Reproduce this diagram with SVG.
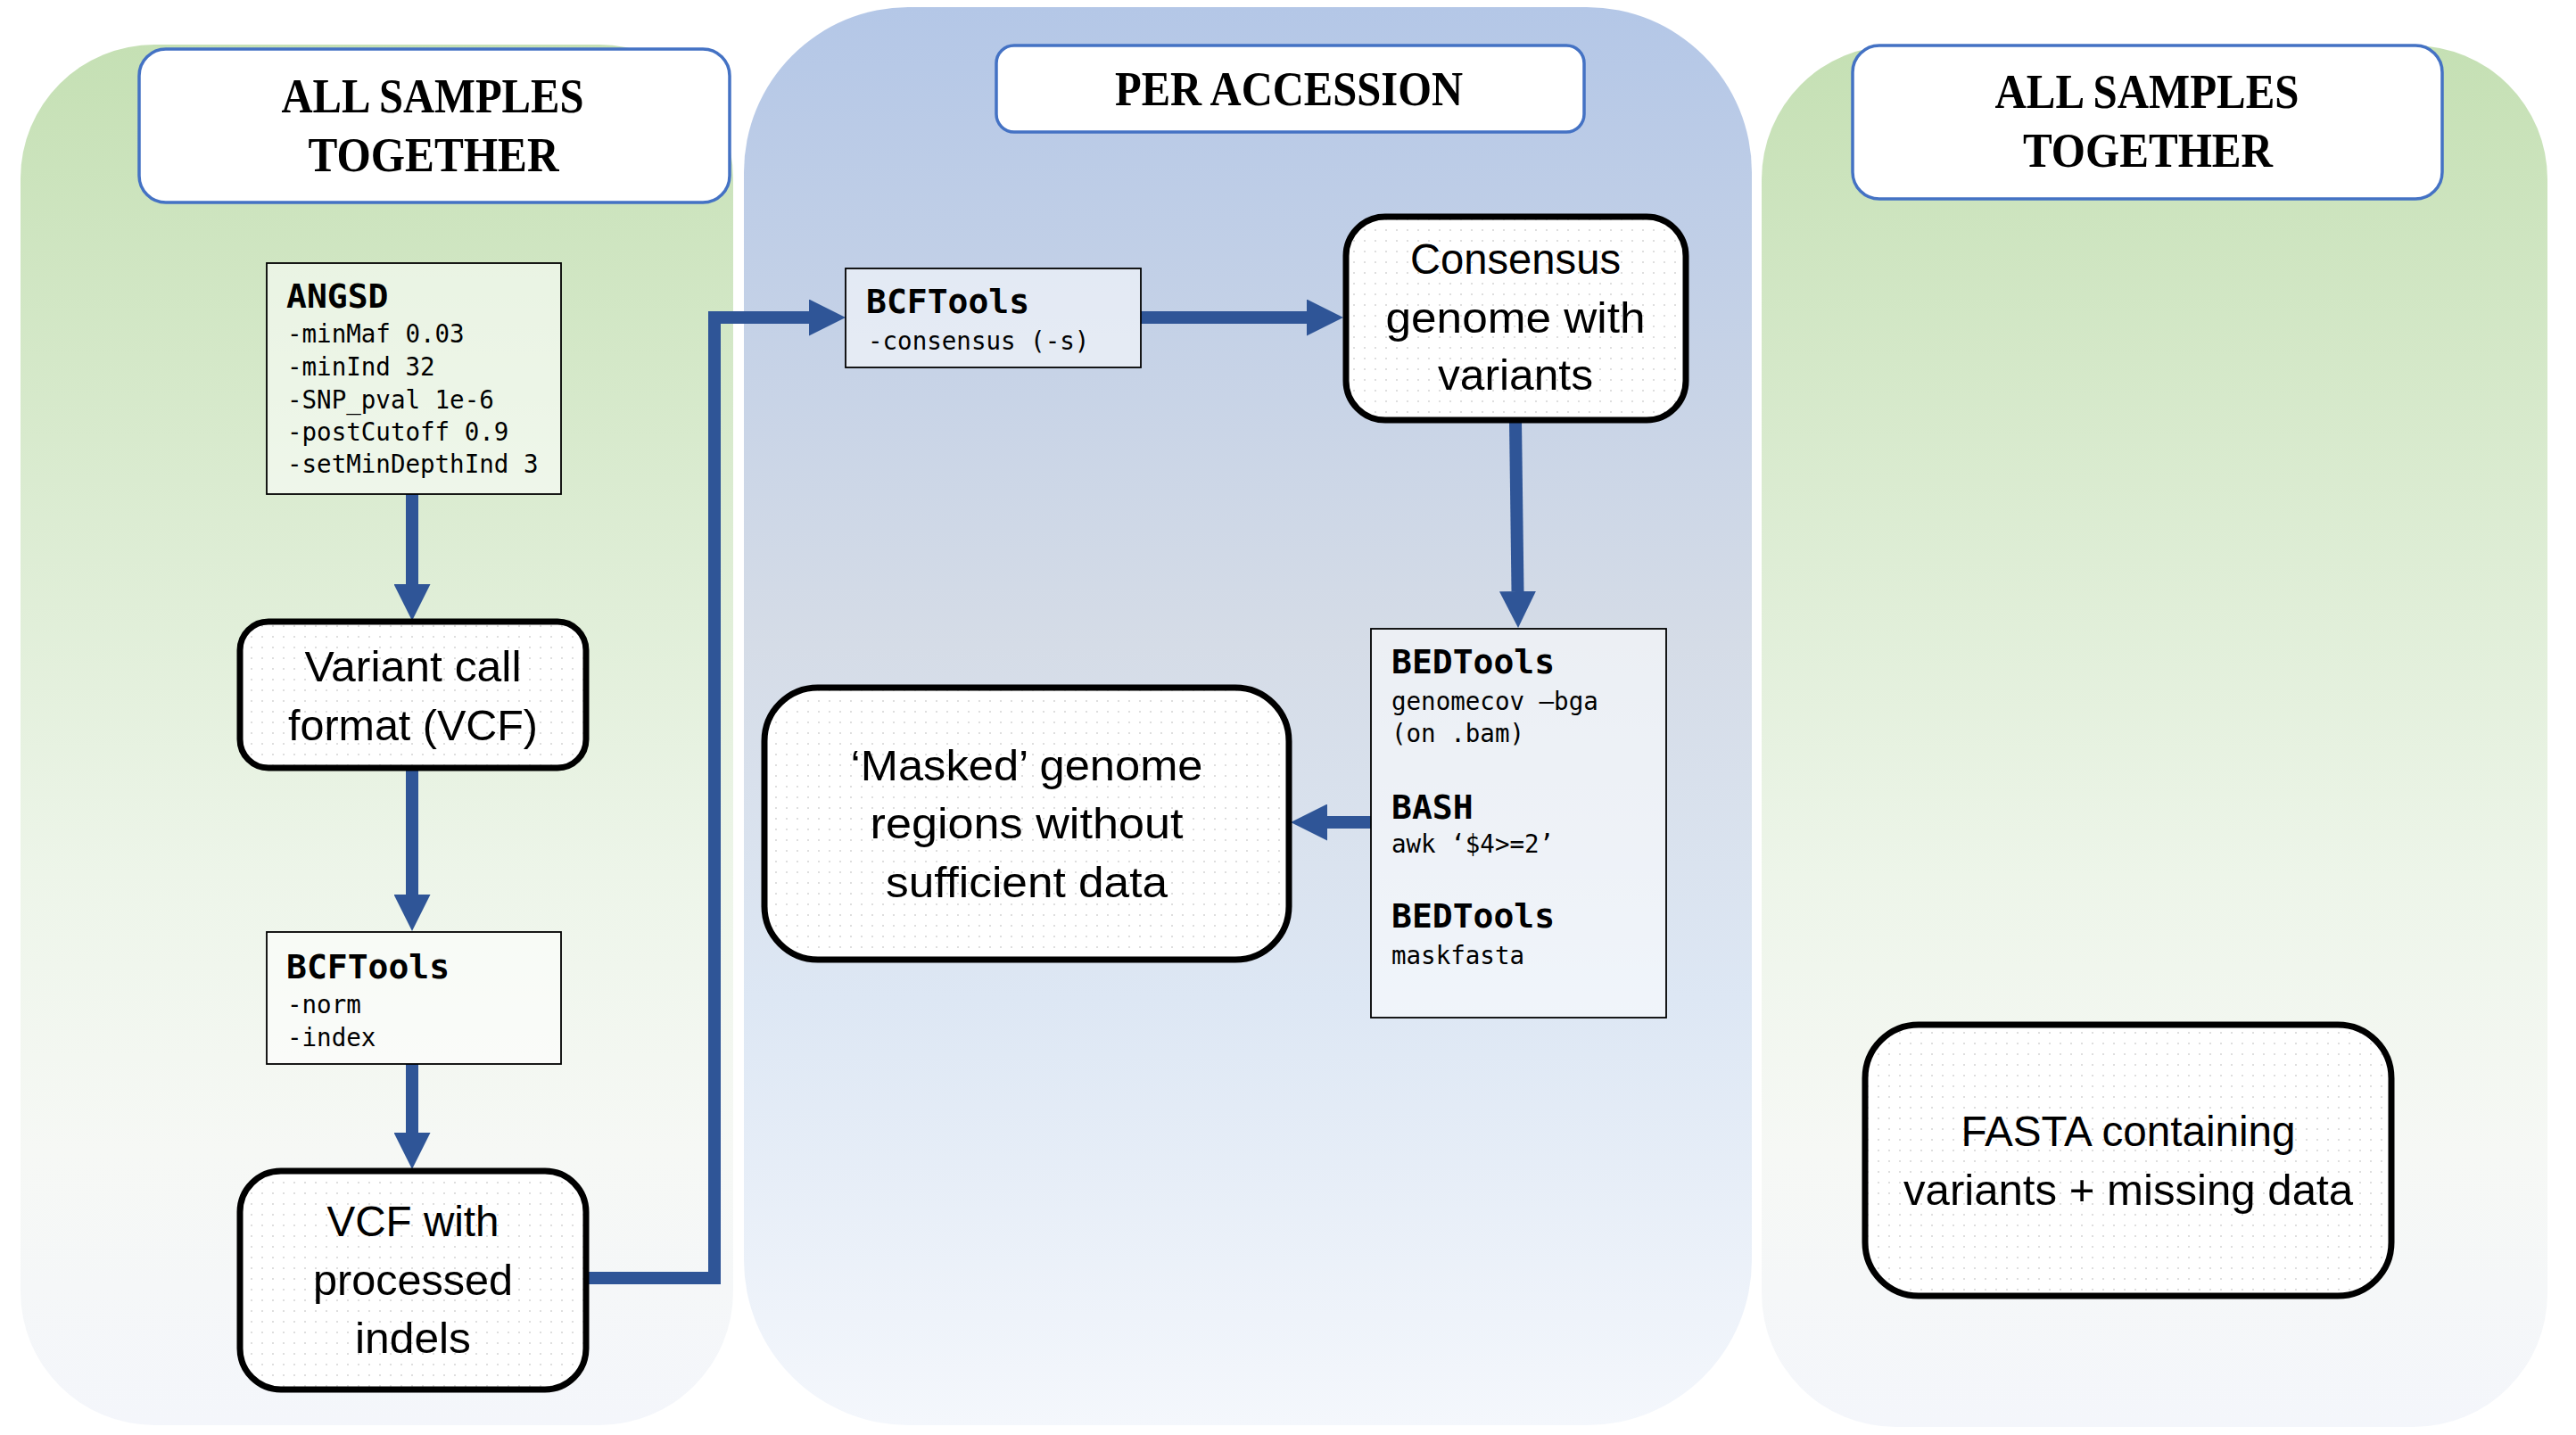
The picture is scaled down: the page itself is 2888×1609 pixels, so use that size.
<svg xmlns="http://www.w3.org/2000/svg" width="2888" height="1609" viewBox="0 0 2888 1609">
<style>
.title{font-family:"Liberation Serif","Times New Roman",serif;font-weight:bold;font-size:54px;fill:#000;text-anchor:middle}
.tbox{fill:#fff;stroke:#4472c4;stroke-width:3.5}
.term{fill:url(#dots);stroke:#000;stroke-width:7}
.tool{fill:#fff;fill-opacity:0.55;stroke:#000;stroke-width:1.8}
.lbl{font-family:"Liberation Sans",Arial,sans-serif;font-size:48px;fill:#000;text-anchor:middle}
.mh{font-family:"DejaVu Sans Mono","Liberation Mono",monospace;font-weight:bold;font-size:38px;fill:#000}
.mt{font-family:"DejaVu Sans Mono","Liberation Mono",monospace;font-size:27.5px;fill:#000}
.conn{fill:none;stroke:#2f5597;stroke-width:14;marker-end:url(#ah)}
</style>
<defs>
<linearGradient id="gGreen" x1="0" y1="0" x2="0" y2="1">
<stop offset="0" stop-color="#c5e0b4"/>
<stop offset="0.6" stop-color="#edf5e9"/>
<stop offset="0.8" stop-color="#f6f8f5"/>
<stop offset="1" stop-color="#f4f6fb"/>
</linearGradient>
<linearGradient id="gBlue" x1="0" y1="0" x2="0" y2="1">
<stop offset="0" stop-color="#b4c7e7"/>
<stop offset="0.45" stop-color="#d5dce7"/>
<stop offset="0.7" stop-color="#dde7f4"/>
<stop offset="1" stop-color="#f4f7fc"/>
</linearGradient>
<pattern id="dots" width="12" height="12" patternUnits="userSpaceOnUse">
<rect width="12" height="12" fill="#fff"/>
<circle cx="6" cy="6" r="1" fill="#d4d4d4"/>
</pattern>
<marker id="ah" viewBox="0 0 41 41" refX="0" refY="20.5" markerWidth="41" markerHeight="41" markerUnits="userSpaceOnUse" orient="auto">
<path d="M0,0 L41,20.5 L0,41 Z" fill="#2f5597"/>
</marker>
</defs>
<rect width="2888" height="1609" fill="#fff"/>

<g id="panel-left">
<rect x="23" y="50" width="799" height="1548" rx="150" ry="150" fill="url(#gGreen)"/>
</g>
<g id="panel-middle">
<rect x="834" y="8" width="1130" height="1590" rx="185" ry="185" fill="url(#gBlue)"/>
</g>
<g id="panel-right">
<rect x="1975" y="51" width="881" height="1549" rx="150" ry="150" fill="url(#gGreen)"/>
</g>

<g id="title-left">
<rect class="tbox" x="156" y="55" width="662" height="172" rx="30"/>
<text class="title" x="485" y="126" textLength="339" lengthAdjust="spacingAndGlyphs">ALL SAMPLES</text>
<text class="title" x="486" y="192" textLength="281" lengthAdjust="spacingAndGlyphs">TOGETHER</text>
</g>
<g id="title-middle">
<rect class="tbox" x="1117" y="51" width="659" height="97" rx="20"/>
<text class="title" x="1445" y="118" textLength="390" lengthAdjust="spacingAndGlyphs">PER ACCESSION</text>
</g>
<g id="title-right">
<rect class="tbox" x="2077" y="51" width="661" height="172" rx="30"/>
<text class="title" x="2407" y="121" textLength="341" lengthAdjust="spacingAndGlyphs">ALL SAMPLES</text>
<text class="title" x="2408" y="187" textLength="280" lengthAdjust="spacingAndGlyphs">TOGETHER</text>
</g>

<g id="connectors">
<path class="conn" d="M462,554 V655"/>
<path class="conn" d="M462,862 V1003"/>
<path class="conn" d="M462,1193 V1270"/>
<path class="conn" d="M657,1433 H801 V356 H907"/>
<path class="conn" d="M1279,356 H1465"/>
<path class="conn" d="M1699,472 L1701.5,663"/>
<path class="conn" d="M1537,922 H1488"/>
</g>

<g id="node-angsd">
<rect class="tool" x="299" y="295" width="330" height="259"/>
<text class="mh" x="321" y="345">ANGSD</text>
<text class="mt" x="322" y="384">-minMaf 0.03</text>
<text class="mt" x="322" y="421">-minInd 32</text>
<text class="mt" x="322" y="458">-SNP_pval 1e-6</text>
<text class="mt" x="322" y="494">-postCutoff 0.9</text>
<text class="mt" x="322" y="530">-setMinDepthInd 3</text>
</g>

<g id="node-vcf">
<rect class="term" x="269" y="697" width="388" height="164" rx="32"/>
<text class="lbl" x="463" y="764" textLength="243" lengthAdjust="spacingAndGlyphs">Variant call</text>
<text class="lbl" x="463" y="830" textLength="280" lengthAdjust="spacingAndGlyphs">format (VCF)</text>
</g>

<g id="node-bcftools-norm">
<rect class="tool" x="299" y="1045" width="330" height="148"/>
<text class="mh" x="321" y="1097">BCFTools</text>
<text class="mt" x="322" y="1136">-norm</text>
<text class="mt" x="322" y="1173">-index</text>
</g>

<g id="node-vcf-indels">
<rect class="term" x="269" y="1313" width="388" height="245" rx="46"/>
<text class="lbl" x="463" y="1386" textLength="193" lengthAdjust="spacingAndGlyphs">VCF with</text>
<text class="lbl" x="463" y="1452" textLength="224" lengthAdjust="spacingAndGlyphs">processed</text>
<text class="lbl" x="463" y="1517" textLength="130" lengthAdjust="spacingAndGlyphs">indels</text>
</g>

<g id="node-bcftools-consensus">
<rect class="tool" x="948" y="301" width="331" height="111"/>
<text class="mh" x="971" y="351">BCFTools</text>
<text class="mt" x="973" y="392">-consensus (-s)</text>
</g>

<g id="node-consensus">
<rect class="term" x="1509" y="243" width="381" height="228" rx="44"/>
<text class="lbl" x="1699" y="307" textLength="236" lengthAdjust="spacingAndGlyphs">Consensus</text>
<text class="lbl" x="1699" y="373" textLength="291" lengthAdjust="spacingAndGlyphs">genome with</text>
<text class="lbl" x="1699" y="437" textLength="174" lengthAdjust="spacingAndGlyphs">variants</text>
</g>

<g id="node-bedtools">
<rect class="tool" x="1537" y="705" width="331" height="436"/>
<text class="mh" x="1560" y="755">BEDTools</text>
<text class="mt" x="1560" y="796">genomecov –bga</text>
<text class="mt" x="1560" y="832">(on .bam)</text>
<text class="mh" x="1560" y="918">BASH</text>
<text class="mt" x="1560" y="956">awk ‘$4&gt;=2’</text>
<text class="mh" x="1560" y="1040">BEDTools</text>
<text class="mt" x="1560" y="1081">maskfasta</text>
</g>

<g id="node-masked">
<rect class="term" x="857" y="771" width="588" height="305" rx="60"/>
<text class="lbl" x="1151" y="875" textLength="395" lengthAdjust="spacingAndGlyphs">‘Masked’ genome</text>
<text class="lbl" x="1151" y="940" textLength="351" lengthAdjust="spacingAndGlyphs">regions without</text>
<text class="lbl" x="1151" y="1006" textLength="316" lengthAdjust="spacingAndGlyphs">sufficient data</text>
</g>

<g id="node-fasta">
<rect class="term" x="2091" y="1149" width="590" height="304" rx="60"/>
<text class="lbl" x="2386" y="1285" textLength="375" lengthAdjust="spacingAndGlyphs">FASTA containing</text>
<text class="lbl" x="2386" y="1351" textLength="504" lengthAdjust="spacingAndGlyphs">variants + missing data</text>
</g>
</svg>
